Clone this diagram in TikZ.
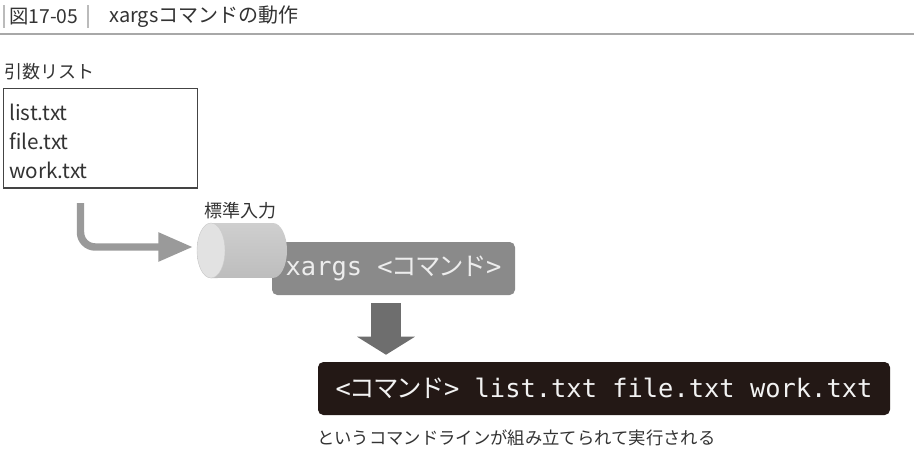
\documentclass[tikz,border=0pt]{standalone}
\usepackage{fontspec}
\setmainfont{Noto Sans CJK JP}
\setmonofont{DejaVu Sans Mono}
\newfontfamily\cjk{Noto Sans CJK JP}
\usetikzlibrary{arrows.meta}
\definecolor{txt}{HTML}{333333}
\definecolor{rulec}{HTML}{A8A8A8}
\definecolor{barc}{HTML}{BBBBBB}
\definecolor{boxc}{HTML}{444444}
\definecolor{arrowlight}{HTML}{9A9A9A}
\definecolor{arrowdark}{HTML}{6E6E6E}
\definecolor{boxgray}{HTML}{8A8A8A}
\definecolor{boxblack}{HTML}{231815}
\definecolor{cylbody}{HTML}{CFCFCF}
\definecolor{cylbodyd}{HTML}{BDBDBD}
\definecolor{cylface}{HTML}{E2E2E2}
\newcommand\cj[1]{\makebox[0.917em]{\cjk #1}}
\tikzset{
  plain/.style={anchor=west, text=txt, inner sep=0pt},
  garrow/.style={draw=arrowlight, line width=5.6pt, rounded corners=11pt,
    -{Triangle[length=26pt,width=20.5pt]}},
  darrow/.style={draw=arrowdark, line width=22.5pt,
    -{Triangle[length=13.5pt,width=42.75pt]}},
  cmdbox/.style={rounded corners=4pt, inner sep=0pt, minimum height=39.75pt,
    font=\ttfamily\fontsize{19.06}{21}\selectfont}
}
\begin{document}
\begin{tikzpicture}[x=0.75pt,y=-0.75pt]
\useasboundingbox (0,0) rectangle (914,472);
\fill[white] (0,0) rectangle (914,472);
% title
\draw[barc, line width=1.8pt] (4,5) -- (4,28);
\draw[barc, line width=1.8pt] (88,5) -- (88,28);
\node[plain, font=\fontsize{14.5}{16}\selectfont] (fignum) at (9,17) {図17-05};
\node[plain, font=\fontsize{15}{16}\selectfont] (title) at (109,17) {xargsコマンドの動作};
\draw[rulec, line width=1.1pt] (0,34) -- (914,34);
% argument list
\node[plain, font=\fontsize{13.5}{15}\selectfont] (lbl) at (4,72) {引数リスト};
\node[draw=boxc, line width=0.9pt, anchor=north west, inner sep=0pt,
  minimum width=145.5pt, minimum height=74.6pt] (list) at (3,88) {};
\node[plain, font=\fontsize{15.5}{17}\selectfont] (l1) at (9,112) {list.txt};
\node[plain, font=\fontsize{15.5}{17}\selectfont] (l2) at (9,141) {file.txt};
\node[plain, font=\fontsize{15.5}{17}\selectfont] (l3) at (9,170) {work.txt};
% xargs box
\node[cmdbox, fill=boxgray, text=white!93!black, minimum width=182.25pt] (xargs) at (393.5,268.5)
  {xargs <\cj{コ}\cj{マ}\cj{ン}\cj{ド}>};
% cylinder (standard input)
\shade[top color=cylbody, bottom color=cylbodyd]
  (211,223) -- (273,223) arc[start angle=90, end angle=-90, x radius=10.5pt, y radius=20.6pt]
  -- (211,278) arc[start angle=270, end angle=90, x radius=10.5pt, y radius=20.6pt] -- cycle;
\fill[cylface] (211,250.5) ellipse [x radius=10.5pt, y radius=20.6pt];
\draw[white!80!black, line width=0.3pt] (211,250.5) ellipse [x radius=10.5pt, y radius=20.6pt];
\coordinate (cylin) at (193,247);
\node[text=txt, font=\fontsize{13.5}{15}\selectfont, inner sep=0pt] (stdin) at (240,211) {標準入力};
% bent arrow
\coordinate (a0) at (80.5,203);
\draw[garrow] (a0) |- (cylin);
% result command line
\node[cmdbox, fill=boxblack, text=white!95!black, minimum width=429pt] (cmd) at (604,388.5)
  {<\cj{コ}\cj{マ}\cj{ン}\cj{ド}> list.txt file.txt work.txt};
% down arrow
\coordinate (dnx) at (386,0);
\draw[darrow, shorten <=6pt, shorten >=5.25pt] (xargs.south -| dnx) -- (cmd.north -| dnx);
% caption
\node[plain, font=\fontsize{13}{15}\selectfont] (cap) at (317,438)
  {というコマンドラインが組み立てられて実行される};
\end{tikzpicture}
\end{document}
